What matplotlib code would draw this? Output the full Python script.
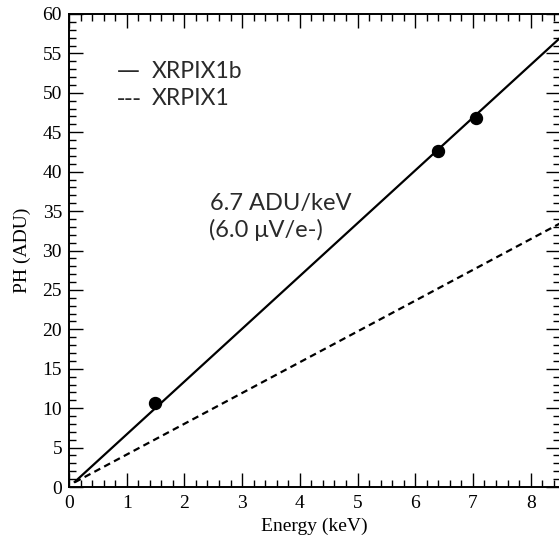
"""PH vs energy calibration plot for XRPIX1b / XRPIX1."""

import matplotlib
matplotlib.use("Agg")
import matplotlib.pyplot as plt
from matplotlib.ticker import MultipleLocator

plt.rcParams["font.family"] = "Liberation Serif"

# measured peaks (XRPIX1b)
energy_kev = [1.49, 6.40, 7.05]
ph_adu = [10.7, 42.6, 46.8]

# fitted lines, drawn between two energies
line_energy = [0.1, 8.5]
xrpix1b_fit = [0.65, 56.9]
xrpix1_fit = [0.6, 33.4]

# hand-written key (dash characters + names), as in the original figure
key_marks = ["\u2014", "---"]
key_labels = ["XRPIX1b", "XRPIX1"]
gain_lines = ["6.7 ADU/keV", "(6.0 \u03bcV/e-)"]

SANS = "Lato"
TXT = "#2a2a2a"

fig = plt.figure(figsize=(5.59, 5.40), dpi=100)
ax = fig.add_axes([69 / 559, 53 / 540, 490.5 / 559, 473 / 540])

ax.plot(line_energy, xrpix1b_fit, color="black", lw=1.6)
ax.plot(line_energy, xrpix1_fit, color="black", lw=1.6, linestyle=(0, (3, 2)))
ax.plot(energy_kev, ph_adu, "o", color="black", ms=8.6, zorder=3)

ax.set_xlim(0, 8.5)
ax.set_ylim(0, 60)
ax.xaxis.set_major_locator(MultipleLocator(1))
ax.xaxis.set_minor_locator(MultipleLocator(0.2))
ax.yaxis.set_major_locator(MultipleLocator(5))
ax.yaxis.set_minor_locator(MultipleLocator(1))
ax.tick_params(which="both", direction="in", top=True, right=True,
               labelsize=14, width=1.0)
ax.tick_params(which="major", length=10, pad=5)
ax.tick_params(which="minor", length=5)
ax.tick_params(axis="x", pad=6)
for sp in ax.spines.values():
    sp.set_linewidth(1.4)

ax.set_xlabel("Energy (keV)", fontsize=14, labelpad=4)
ax.set_ylabel("PH (ADU)", fontsize=14, labelpad=8)

# key rows
for i, (mark, lab) in enumerate(zip(key_marks, key_labels)):
    yb = 51.9 - 3.4 * i
    ax.text(0.83, yb, mark, fontsize=16.5, family="DejaVu Sans", color=TXT,
            ha="left", va="baseline")
    ax.text(1.44, yb, lab, fontsize=16.5, family=SANS, color=TXT,
            ha="left", va="baseline")

ax.text(2.44, 35.2, gain_lines[0], fontsize=17, family=SANS,
        color=TXT, ha="left", va="baseline")
ax.text(2.42, 31.7, gain_lines[1], fontsize=17, family=SANS,
        color=TXT, ha="left", va="baseline")

fig.savefig("out.png", dpi=100)
